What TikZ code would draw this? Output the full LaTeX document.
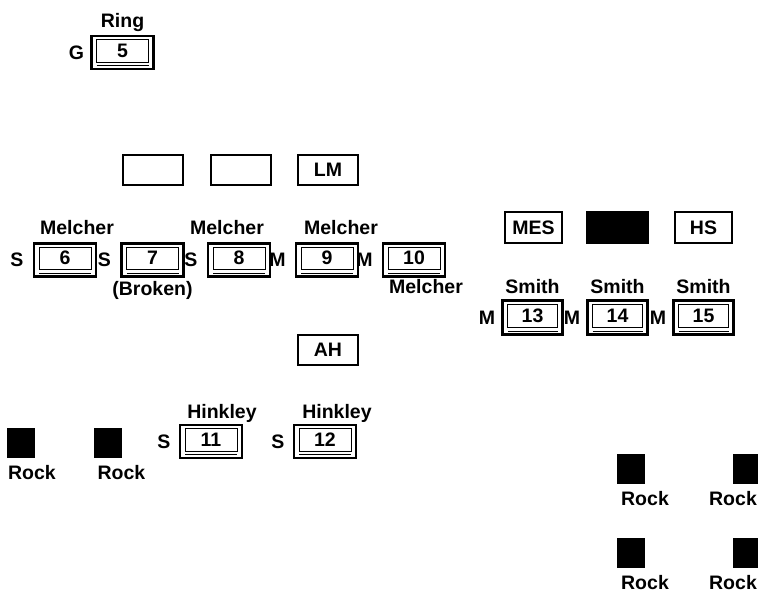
\documentclass[tikz,border=0pt]{standalone}
\usepackage{fontspec}
\setmainfont{Liberation Sans}
\usetikzlibrary{positioning}
\begin{document}
\begin{tikzpicture}
    [x=1pt, y=-1pt,
    every node/.style={font=\fontsize{19.5}{22}\selectfont\bfseries, inner sep=0pt},
    seat/.style={draw, line width=2.6pt, minimum width=62pt, minimum height=33pt,
      text height=14pt, text depth=4.5pt,
      path picture={
        \draw[line width=0.9pt] ([shift={(5pt,-3.5pt)}]path picture bounding box.north west)
          rectangle ([shift={(-5pt,7pt)}]path picture bounding box.south east);
        \draw[line width=0.5pt] ([shift={(5pt,3.5pt)}]path picture bounding box.south west)
          -- ([shift={(-5pt,3.5pt)}]path picture bounding box.south east);
      }},
    room/.style={draw, line width=2pt, minimum width=60pt, minimum height=30pt},
    rock/.style={fill=black, minimum width=28pt, minimum height=30pt}]
    \useasboundingbox (0,0) rectangle (758,597);
    % ring
    \node[seat] (b5) at (122.5,52.5) {5};
    \node[above=3pt of b5] (b5-own) {Ring};
    \node[left=6pt of b5] (b5-key) {G};
    % rooms
    \node[room] (e1) at (153,170) {};
    \node[room] (e2) at (241,170) {};
    \node[room] (lm) at (328,170) {LM};
    \node[room, minimum width=57pt, minimum height=31pt] (mes) at (533.5,227.5) {MES};
    \node[room, fill=black, minimum width=61pt, minimum height=31pt] (blk) at (617.5,227.5) {};
    \node[room, minimum width=57pt, minimum height=31pt] (hs) at (703.5,227.5) {HS};
    \node[room] (ah) at (328,350) {AH};
    % Melcher row
    \node[seat] (b6) at (65,260) {6};
    \node[seat] (b7) at (152.5,260) {7};
    \node[seat] (b8) at (239,260) {8};
    \node[seat] (b9) at (327,260) {9};
    \node[seat] (b10) at (414,260) {10};
    \node[above=7pt of b6, xshift=12pt] (b6-own) {Melcher};
    \node[above=7pt of b8, xshift=-12pt] (b8-own) {Melcher};
    \node[above=7pt of b9, xshift=14pt] (b9-own) {Melcher};
    \node[below=1pt of b10, xshift=12pt] (b10-own) {Melcher};
    \node[below=3pt of b7] (b7-note) {(Broken)};
    \foreach \b/\k in {b6/S, b7/S, b8/S, b9/M, b10/M}
      \node[left=9pt of \b] (\b-key) {\k};
    % Smith row
    \node[seat, minimum width=60pt, minimum height=34pt] (b13) at (532.5,317.5) {13};
    \node[seat, minimum width=60pt, minimum height=34pt] (b14) at (617.5,317.5) {14};
    \node[seat, minimum width=60pt, minimum height=34pt] (b15) at (703.5,317.5) {15};
    \foreach \b in {b13, b14, b15} {
      \node[above=5pt of \b] (\b-own) {Smith};
      \node[left=6pt of \b] (\b-key) {M};
    }
    % Hinkley row
    \node[seat] (b11) at (211,441.5) {11};
    \node[seat] (b12) at (325,441.5) {12};
    \node[above=1pt of b11, xshift=11pt] (b11-own) {Hinkley};
    \node[above=1pt of b12, xshift=12pt] (b12-own) {Hinkley};
    \node[left=8pt of b11] (b11-key) {S};
    \node[left=8pt of b12] (b12-key) {S};
    % rocks
    \node[rock] (rk1) at (21,442.5) {};
    \node[rock] (rk2) at (107.5,442.5) {};
    \node[rock] (rk3) at (631,469) {};
    \node[rock] (rk4) at (747,469) {};
    \node[rock] (rk5) at (631,552.5) {};
    \node[rock] (rk6) at (747,552.5) {};
    \foreach \r/\dx in {rk1/11, rk2/14, rk3/14, rk4/-14, rk5/14, rk6/-14}
      \node[below=7pt of \r, xshift=\dx pt] (\r-txt) {Rock};
\end{tikzpicture}
\end{document}
